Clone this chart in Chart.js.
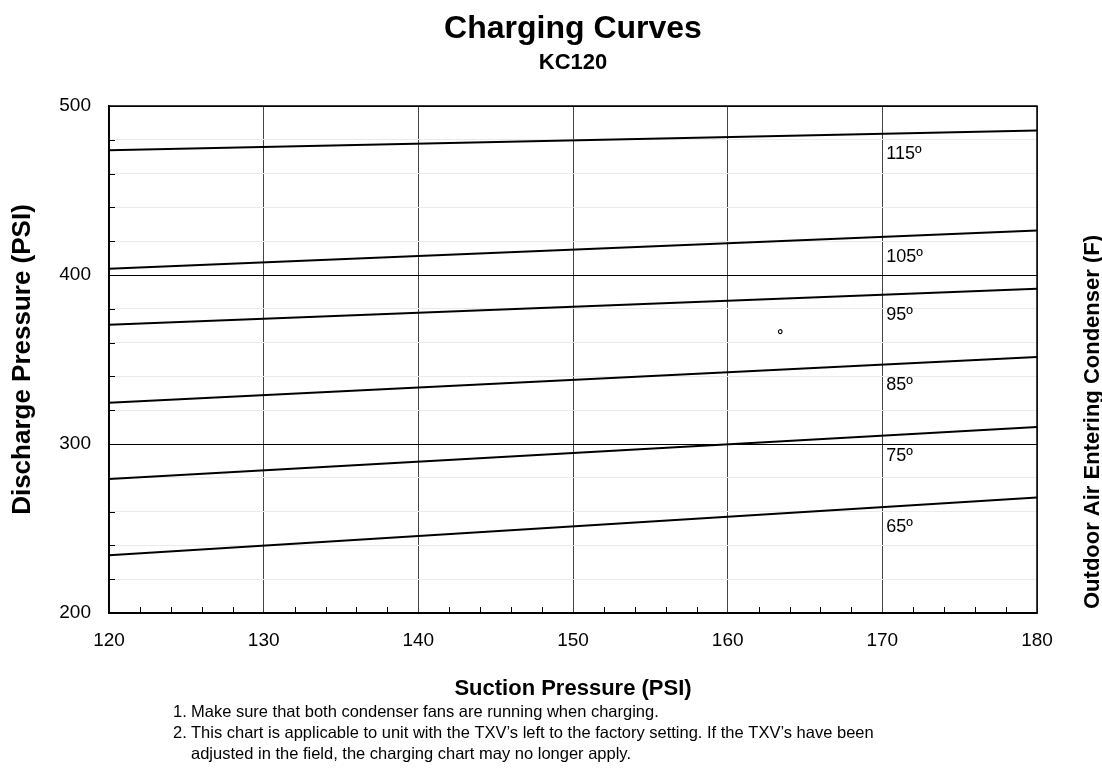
<!DOCTYPE html>
<html>
<head>
<meta charset="utf-8">
<title>Charging Curves KC120</title>
<script src="https://cdn.jsdelivr.net/npm/chart.js@4.4.1/dist/chart.umd.min.js"></script>
<style>
    html, body { margin: 0; padding: 0; background: #fff; }
    #wrap { width: 1102px; height: 781px; position: relative; }
</style>
</head>
<body>
<div id="wrap"><canvas id="chargingChart"></canvas></div>
<script>
// suction pressure (x) at the two ends of each curve
const suctionPressure = [120, 180];

// discharge pressure, one array per outdoor temperature
const discharge115 = [473.8, 485.5];
const discharge105 = [403.7, 426.4];
const discharge95 = [370.6, 391.9];
const discharge85 = [324.4, 351.5];
const discharge75 = [279.3, 310.0];
const discharge65 = [234.1, 268.4];

const outdoorTemps = ["115º", "105º", "95º", "85º", "75º", "65º"];
const curves = [discharge115, discharge105, discharge95, discharge85, discharge75, discharge65];

const xTickLabels = [120, 130, 140, 150, 160, 170, 180];
const yTickLabels = [200, 300, 400, 500];

// curve labels sit at this suction pressure
const labelAt = 170;

// stray degree mark in the original plot
const strayMark = { x: 163.4, y: 366.4, text: "°" };

const notes = [
    ["1.", "Make sure that both condenser fans are running when charging."],
    ["2.", "This chart is applicable to unit with the TXV’s left to the factory setting. If the TXV’s have been"],
    ["", "adjusted in the field, the charging chart may no longer apply."]
];

const FONT = "'Liberation Sans', Arial, sans-serif";
Chart.defaults.font.family = FONT;
Chart.defaults.color = "#000";

const datasets = curves.map((arr, i) => ({
    label: outdoorTemps[i],
    data: suctionPressure.map((x, j) => ({ x: x, y: arr[j] })),
    borderColor: "#000",
    borderWidth: 2,
    pointRadius: 0,
    tension: 0,
    fill: false
}));

const decorations = {
    id: "decorations",
    beforeDatasetsDraw(chart) {
        const { ctx, chartArea: a, scales: { x, y } } = chart;
        ctx.save();
        ctx.strokeStyle = "#000";
        ctx.lineWidth = 1;
        // minor tick marks inside the frame
        x.ticks.forEach(t => {
            if (t.value % 10 === 0) return;
            const px = Math.round(x.getPixelForValue(t.value)) + 0.5;
            ctx.beginPath();
            ctx.moveTo(px, a.bottom);
            ctx.lineTo(px, a.bottom - 6);
            ctx.stroke();
        });
        y.ticks.forEach(t => {
            if (t.value % 100 === 0) return;
            const py = Math.round(y.getPixelForValue(t.value)) + 0.5;
            ctx.beginPath();
            ctx.moveTo(a.left, py);
            ctx.lineTo(a.left + 6, py);
            ctx.stroke();
        });
        ctx.restore();
    },
    afterDatasetsDraw(chart) {
        const { ctx, chartArea: a, scales: { x, y } } = chart;
        ctx.save();
        ctx.strokeStyle = "#000";
        ctx.lineWidth = 1.5;
        ctx.strokeRect(a.left, a.top, a.right - a.left, a.bottom - a.top);

        // curve labels just under each line
        ctx.fillStyle = "#000";
        ctx.font = "18px " + FONT;
        ctx.textAlign = "left";
        ctx.textBaseline = "middle";
        const t = (labelAt - suctionPressure[0]) / (suctionPressure[1] - suctionPressure[0]);
        curves.forEach((arr, i) => {
            const v = arr[0] + (arr[1] - arr[0]) * t;
            ctx.fillText(outdoorTemps[i], x.getPixelForValue(labelAt) + 4, y.getPixelForValue(v) + 20);
        });

        ctx.font = "bold 15px " + FONT;
        ctx.textAlign = "center";
        ctx.fillText(strayMark.text, x.getPixelForValue(strayMark.x), y.getPixelForValue(strayMark.y) + 4);
        ctx.restore();
    },
    afterDraw(chart) {
        const { ctx, chartArea: a } = chart;
        const cx = (a.left + a.right) / 2;
        ctx.save();
        ctx.fillStyle = "#000";
        ctx.textAlign = "center";
        ctx.textBaseline = "middle";

        // title and model
        ctx.font = "bold 32px " + FONT;
        ctx.fillText("Charging Curves", cx, 29);
        ctx.font = "bold 22px " + FONT;
        ctx.fillText("KC120", cx, 63);

        // right axis title
        ctx.save();
        ctx.font = "bold 22px " + FONT;
        ctx.translate(1093, 422);
        ctx.rotate(-Math.PI / 2);
        ctx.fillText("Outdoor Air Entering Condenser (F)", 0, 0);
        ctx.restore();

        // notes under the chart
        ctx.font = "16.5px " + FONT;
        ctx.textAlign = "left";
        notes.forEach((n, i) => {
            const ny = 712 + i * 21;
            ctx.fillText(n[0], 173, ny);
            ctx.fillText(n[1], 191, ny);
        });
        ctx.restore();
    }
};

new Chart(document.getElementById("chargingChart"), {
    type: "line",
    data: { datasets: datasets },
    options: {
        responsive: true,
        maintainAspectRatio: false,
        animation: false,
        layout: { padding: { left: 0, right: 65, top: 106, bottom: 68 } },
        plugins: {
            legend: { display: false },
            tooltip: { enabled: false }
        },
        scales: {
            x: {
                type: "linear",
                min: xTickLabels[0],
                max: xTickLabels[xTickLabels.length - 1],
                ticks: {
                    stepSize: 2,
                    autoSkip: false,
                    maxRotation: 0,
                    padding: 16,
                    font: { size: 19 },
                    color: "#000",
                    callback: v => xTickLabels.includes(v) ? String(v) : ""
                },
                grid: {
                    drawTicks: false,
                    color: c => c.tick && c.tick.value % 10 === 0 ? "#444" : "rgba(0,0,0,0)",
                    lineWidth: 1
                },
                border: { color: "#000", width: 1.5 },
                title: {
                    display: true,
                    text: "Suction Pressure (PSI)",
                    color: "#000",
                    font: { size: 22, weight: "bold" },
                    padding: { top: 0, bottom: 11 }
                },
                afterFit: s => { s.height = 100; }
            },
            y: {
                type: "linear",
                min: yTickLabels[0],
                max: yTickLabels[yTickLabels.length - 1],
                ticks: {
                    stepSize: 20,
                    autoSkip: false,
                    padding: 18,
                    font: { size: 19 },
                    color: "#000",
                    callback: v => yTickLabels.includes(v) ? String(v) : ""
                },
                grid: {
                    drawTicks: false,
                    color: c => c.tick && c.tick.value % 100 === 0 ? "#000" : "#ebebeb",
                    lineWidth: 1
                },
                border: { color: "#000", width: 1.5 },
                title: {
                    display: true,
                    text: "Discharge Pressure (PSI)",
                    color: "#000",
                    font: { size: 26, weight: "bold" },
                    padding: { top: 7, bottom: 0 }
                },
                afterFit: s => { s.width = 109; }
            }
        }
    },
    plugins: [decorations]
});
</script>
</body>
</html>
